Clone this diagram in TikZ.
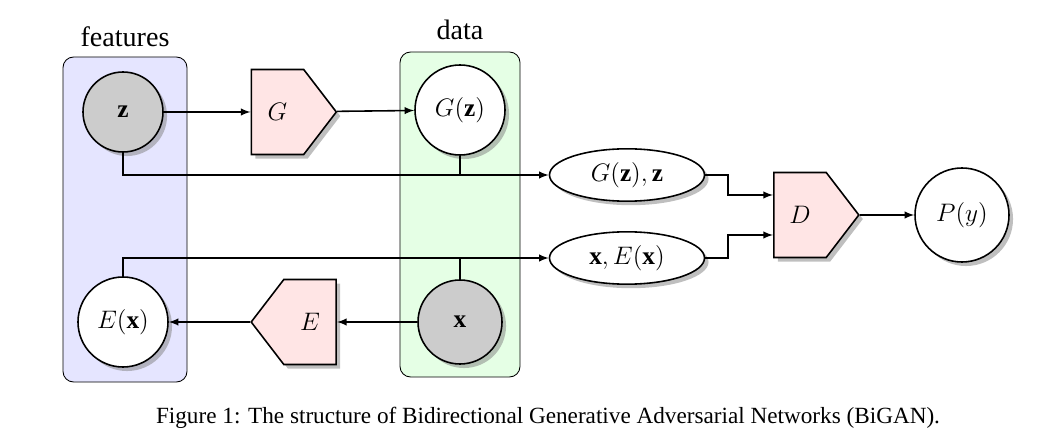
\documentclass[tikz,border=0pt]{standalone}
\usepackage{fontspec}
\setmainfont{Liberation Serif}
\usepackage{amsmath}
\usetikzlibrary{positioning,shapes.symbols,shapes.geometric,shadows,calc,arrows}

\begin{document}
\begin{tikzpicture}
	[   snode/.style={draw=black,fill=red!10,signal,inner sep=0pt,minimum width=1.7cm,minimum height=1.7cm,signal pointer angle=105,drop shadow,font=\Large},
	    enode/.style={draw=black,fill=white,ellipse,minimum width=3.1cm,minimum height=1cm,drop shadow,font=\Large},
	    group/.style={draw=black,rounded corners=6pt},
	    line width=0.9pt,
	]
	\tikzset{normal arrow/.style={draw,line width=0.9pt,-latex}}
	\useasboundingbox (0,0) rectangle (21.14,-8.96);
	% groups
	\node[group,line width=0.5pt,fill=blue!10,minimum width=2.48cm,minimum height=6.5cm] (feat) at (2.5,-4.39) {};
	\node[group,line width=0.5pt,fill=green!10,minimum width=2.4cm,minimum height=6.5cm] (dat) at (9.2,-4.29) {};
	\node[font=\fontsize{16}{19}\selectfont] (feat-l) at (2.5,-0.74) {features};
	\node[font=\fontsize{16}{19}\selectfont] (dat-l) at (9.2,-0.6) {data};
	% nodes
	\node[draw=black,circle,fill=gray!40,minimum size=1.6cm,drop shadow,font=\Large] (z) at (2.46,-2.24) {$\mathbf{z}$};
	\node[snode,signal to=east] (G) at (5.55,-2.24) {$G$};
	\node[draw=black,circle,fill=white,minimum size=1.8cm,drop shadow,font=\Large,inner sep=1pt] (Gz) at (9.2,-2.2) {$G(\mathbf{z})$};
	\node[enode] (e-1) at (12.54,-3.5) {$G(\mathbf{z}),\mathbf{z}$};
	\node[enode] (e-2) at (12.54,-5.16) {$\mathbf{x},E(\mathbf{x})$};
	\node[snode,signal to=east] (D) at (16.0,-4.3) {$D$};
	\node[draw=black,circle,fill=white,minimum size=1.88cm,drop shadow,font=\Large,inner sep=1pt] (P) at (19.24,-4.3) {$P(y)$};
	\node[draw=black,circle,fill=white,minimum size=1.8cm,drop shadow,font=\Large,inner sep=1pt] (Ex) at (2.46,-6.44) {$E(\mathbf{x})$};
	\node[snode,signal to=west] (E) at (6.2,-6.44) {$E$};
	\node[draw=black,circle,fill=gray!40,minimum size=1.68cm,drop shadow,font=\Large] (x) at (9.2,-6.44) {$\mathbf{x}$};
	\node[font=\fontsize{13.2}{16}\selectfont] (cap) at (10.96,-8.36) {Figure 1: The structure of Bidirectional Generative Adversarial Networks (BiGAN).};
	% connectors
	\path[normal arrow] (z) -- (G);
	\path[normal arrow] (G) -- (Gz);
	\path[normal arrow] (z.south) |- (e-1.west);
	\draw (Gz.south) -- (Gz.south |- e-1.west);
	\path[normal arrow] (Ex.north) |- (e-2.west);
	\draw (x.north) -- (x.north |- e-2.west);
	\path[normal arrow] (e-1.east) -- ++(0.45,0) |- ($(D.west)+(0,0.4)$);
	\path[normal arrow] (e-2.east) -- ++(0.45,0) |- ($(D.west)+(0,-0.4)$);
	\path[normal arrow] (D) -- (P);
	\path[normal arrow] (x) -- (E);
	\path[normal arrow] (E) -- (Ex);
\end{tikzpicture}
\end{document}
